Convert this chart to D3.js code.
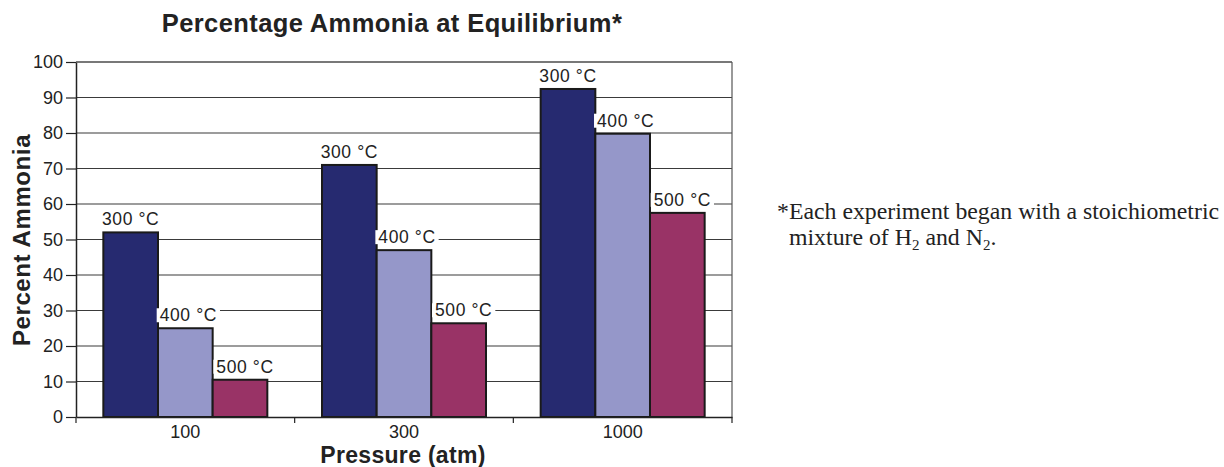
<!DOCTYPE html>
<html>
<head>
<meta charset="utf-8">
<script src="https://cdn.jsdelivr.net/npm/d3@7"></script>
<style>
  html, body { margin: 0; padding: 0; background: #fff; }
  svg { display: block; }
</style>
</head>
<body>
<svg id="chart" width="1224" height="467"></svg>
<script>
const categories = ["100", "300", "1000"];
const seriesNames = ["300 °C", "400 °C", "500 °C"];
const series300 = [52, 71, 92.4];
const series400 = [25, 47, 79.8];
const series500 = [10.5, 26.4, 57.5];
const yTicks = [0, 10, 20, 30, 40, 50, 60, 70, 80, 90, 100];
const colors = ["#262a70", "#9597c9", "#993366"];
const labelDx = [0, 3, 5];

const seriesValues = [series300, series400, series500];

const svg = d3.select("#chart");
const m = { left: 76, right: 732, top: 62, bottom: 417 };
const SANS = "Liberation Sans, Arial, Helvetica, sans-serif";

const x0 = d3.scaleBand().domain(categories).range([m.left, m.right]).padding(0);
const x1 = d3.scaleBand().domain(seriesNames).range([0, x0.bandwidth()]).paddingInner(0).paddingOuter(0.5);
const y = d3.scaleLinear().domain([0, 100]).range([m.bottom, m.top]);

// gridlines
svg.append("g").selectAll("line").data(yTicks.filter(t => t > 0)).join("line")
  .attr("x1", m.left).attr("x2", m.right)
  .attr("y1", d => y(d)).attr("y2", d => y(d))
  .attr("stroke", "#3a3a3a").attr("stroke-width", 1.2);

// right border
svg.append("line").attr("x1", m.right).attr("x2", m.right).attr("y1", m.top).attr("y2", m.bottom)
  .attr("stroke", "#555").attr("stroke-width", 1.2);

// bars
const groups = svg.append("g").selectAll("g").data(categories).join("g")
  .attr("transform", d => `translate(${x0(d)},0)`);

groups.selectAll("rect").data((c, ci) => seriesNames.map((s, si) => ({ s, si, v: seriesValues[si][ci] })))
  .join("rect")
  .attr("x", d => x1(d.s))
  .attr("y", d => y(d.v))
  .attr("width", x1.bandwidth())
  .attr("height", d => y(0) - y(d.v))
  .attr("fill", d => colors[d.si])
  .attr("stroke", "#1a1a1a").attr("stroke-width", 2);

// labels with white background
const labelG = groups.selectAll("g.lbl").data((c, ci) => seriesNames.map((s, si) => ({ s, si, v: seriesValues[si][ci] })))
  .join("g").attr("class", "lbl");
labelG.each(function(d) {
  const g = d3.select(this);
  const cx = x1(d.s) + x1.bandwidth() / 2 + labelDx[d.si];
  const by = y(d.v) - 7;
  const t = g.append("text").attr("x", cx).attr("y", by)
    .attr("text-anchor", "middle")
    .attr("font-family", SANS)
    .attr("font-size", 17.5).attr("letter-spacing", 0.6)
    .attr("fill", "#222").text(d.s);
  const bb = t.node().getBBox();
  g.insert("rect", "text").attr("x", bb.x - 3).attr("y", by - 13).attr("width", bb.width + 6).attr("height", 14)
    .attr("fill", "#fff");
});

// y axis
const yAxis = d3.axisLeft(y).tickValues(yTicks).tickSize(10).tickPadding(3).tickSizeOuter(0);
const ya = svg.append("g").attr("transform", `translate(${m.left},0)`).call(yAxis);
ya.select(".domain").attr("stroke", "#222").attr("stroke-width", 1.5);
ya.selectAll(".tick line").attr("stroke", "#222").attr("stroke-width", 1.2);
ya.selectAll(".tick text").attr("font-family", SANS)
  .attr("font-size", 18).attr("fill", "#222");

// x axis
const xAxis = d3.axisBottom(x0).tickSize(0).tickPadding(8);
const xa = svg.append("g").attr("transform", `translate(0,${m.bottom})`).call(xAxis);
xa.select(".domain").attr("stroke", "#222").attr("stroke-width", 1.5);
xa.selectAll(".tick text").attr("font-family", SANS)
  .attr("font-size", 18).attr("fill", "#222");
// category separator ticks
xa.append("g").selectAll("line").data(categories.concat(["end"])).join("line")
  .attr("x1", (d, i) => i < categories.length ? x0(d) : m.right)
  .attr("x2", (d, i) => i < categories.length ? x0(d) : m.right)
  .attr("y1", 0).attr("y2", 6).attr("stroke", "#222").attr("stroke-width", 1.2);

// top border
svg.append("line").attr("x1", m.left).attr("x2", m.right).attr("y1", m.top).attr("y2", m.top)
  .attr("stroke", "#555").attr("stroke-width", 1.2);

// title
svg.append("text").attr("x", 392).attr("y", 32).attr("text-anchor", "middle")
  .attr("font-family", SANS).attr("font-weight", "bold")
  .attr("font-size", 25.5).attr("letter-spacing", 0.4).attr("fill", "#222")
  .text("Percentage Ammonia at Equilibrium*");

// axis titles
svg.append("text").attr("x", 403).attr("y", 463).attr("text-anchor", "middle")
  .attr("font-family", SANS).attr("font-weight", "bold")
  .attr("font-size", 23).attr("letter-spacing", 0.3).attr("fill", "#222").text("Pressure (atm)");
svg.append("text").attr("transform", `translate(30,240) rotate(-90)`)
  .attr("text-anchor", "middle")
  .attr("font-family", SANS).attr("font-weight", "bold")
  .attr("font-size", 24).attr("letter-spacing", 0.6).attr("fill", "#222").text("Percent Ammonia");

// footnote
const fn = svg.append("g").attr("font-family", "Liberation Serif, Times New Roman, serif")
  .attr("font-size", 23.8).attr("fill", "#222");
fn.append("text").attr("x", 777).attr("y", 219).text("*Each experiment began with a stoichiometric");
const l2 = fn.append("text").attr("x", 789).attr("y", 245);
l2.append("tspan").text("mixture of H");
l2.append("tspan").attr("font-size", 15).attr("dy", 5).text("2");
l2.append("tspan").attr("dy", -5).text(" and N");
l2.append("tspan").attr("font-size", 15).attr("dy", 5).text("2");
l2.append("tspan").attr("dy", -5).text(".");
</script>
</body>
</html>
